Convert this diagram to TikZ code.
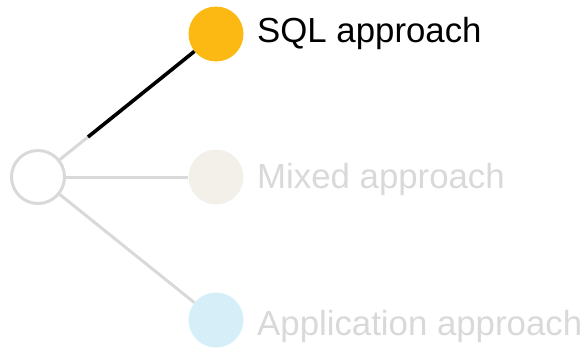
\documentclass[tikz,border=0pt]{standalone}
\usepackage{fontspec}
\setmainfont{Liberation Sans}
\definecolor{lgray}{HTML}{D9D9D9}
\definecolor{sqlc}{HTML}{FDB913}
\definecolor{mixc}{HTML}{F2F0E8}
\definecolor{appc}{HTML}{D6EEF8}
\begin{document}
\begin{tikzpicture}[x=1pt,y=-1pt,
  dot/.style={circle,minimum size=55pt,inner sep=0pt},
  lbl/.style={anchor=base west,inner sep=0pt,font=\fontsize{34.8pt}{40pt}\selectfont},
  link/.style={line width=3pt,draw=lgray}]
\useasboundingbox (0,0) rectangle (587,348);
\node[dot,draw=lgray,line width=3pt,fill=white,minimum size=53pt] (root) at (38,177) {};
\node[dot,fill=sqlc] (sql) at (216,34) {};
\node[dot,fill=mixc] (mix) at (216,177) {};
\node[dot,fill=appc] (app) at (216,320) {};
\coordinate (mid) at (88,137);
\draw[link] (root) -- (mid);
\draw[line width=3.6pt,black] (mid) -- (sql);
\draw[link] (root) -- (mix);
\draw[link] (root) -- (app);
\node[lbl] (t1) at (257,42) {SQL approach};
\node[lbl,text=lgray] (t2) at (257,188) {Mixed approach};
\node[lbl,text=lgray] (t3) at (257,335) {Application approach};
\end{tikzpicture}
\end{document}
